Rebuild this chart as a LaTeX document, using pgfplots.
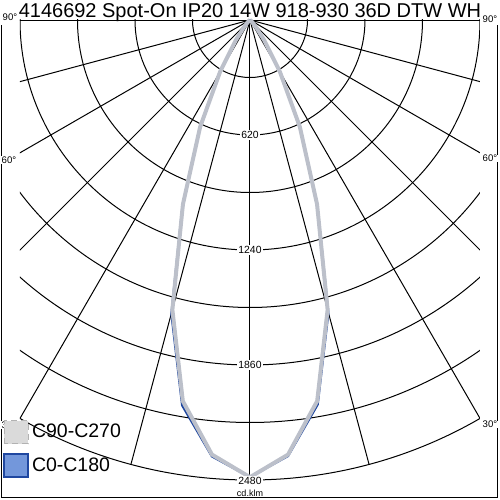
\documentclass[border=0pt]{standalone}
\usepackage{fontspec}
\setmainfont{Liberation Sans}
\usepackage{pgfplots}
\usepackage{pgfplotstable}
\pgfplotsset{compat=1.18}
\definecolor{greyc}{HTML}{BCC0CA}
\definecolor{bluec}{HTML}{1F47A0}
\definecolor{bluefill}{HTML}{7397DB}
\definecolor{greyfill}{HTML}{DADADA}

% gamma (deg, negative = left half), intensity (cd/klm)
\pgfplotstableread{
g I
-90 0
-80 0
-70 0
-60 2
-55 4
-50 8
-45 18
-40 50
-35 135
-30 323
-25 636
-20 1057
-15 1617
-10 2086
-5 2352
0 2465
5 2352
10 2086
15 1617
20 1057
25 636
30 323
35 135
40 50
45 18
50 8
55 4
60 2
70 0
80 0
90 0
}\greydata

\pgfplotstableread{
g I
-90 0
-80 0
-70 0
-60 2
-55 4
-50 8
-45 17
-40 48
-35 133
-30 320
-25 640
-20 1065
-15 1640
-10 2110
-5 2362
0 2465
5 2360
10 2105
15 1635
20 1062
25 638
30 320
35 133
40 48
45 17
50 8
55 4
60 2
70 0
80 0
90 0
}\bluedata

\begin{document}
\begin{tikzpicture}
\begin{axis}[
  name=ax,
  x=0.5pt, y=0.5pt,
  xmin=-250, xmax=250, ymin=-480, ymax=20,
  enlargelimits=false,
  hide axis,
  clip=false,
  legend cell align=left,
  legend style={at={(axis cs:-247,-400)}, anchor=north west, draw=none, fill=none,
    font=\fontsize{9.75}{11}\selectfont, row sep=4.5pt, inner sep=0pt,
    nodes={inner sep=1.5pt}},
]
% grid
\begin{scope}
\clip (axis cs:-230,0.6) rectangle (axis cs:230,-465);
\pgfplotsinvokeforeach{1,2,3,4,5,6,7,8}{
  \draw[black, line width=0.5pt] (axis cs:0,0) circle[radius=28.75pt*#1];
}
\pgfplotsinvokeforeach{-90,-75,-60,-45,-30,-15,0,15,30,45,60,75,90}{
  \draw[black, line width=0.5pt] (axis cs:0,0) -- ++(-90+#1:230pt);
}
\end{scope}
% frame
\draw[black, line width=0.5pt] (axis cs:-249,-5) -- (axis cs:-249,-477) -- (axis cs:248,-477) -- (axis cs:248,-5);

\addlegendimage{legend image code/.code={\draw[fill=greyfill, draw=gray!60, densely dashed, line width=0.5pt] (0pt,-5.75pt) rectangle (12pt,5.75pt);}}
\addlegendentry{C90-C270}
\addlegendimage{legend image code/.code={\draw[fill=bluefill, draw=bluec, line width=0.8pt] (0pt,-5.75pt) rectangle (12pt,5.75pt);}}
\addlegendentry{C0-C180}

\addplot[bluec, line width=1pt, forget plot] table[
  x expr={\thisrow{I}*0.185484*sin(\thisrow{g})},
  y expr={-\thisrow{I}*0.185484*cos(\thisrow{g})}]{\bluedata};
\addplot[greyc, line width=2pt, forget plot] table[
  x expr={\thisrow{I}*0.185484*sin(\thisrow{g})},
  y expr={-\thisrow{I}*0.185484*cos(\thisrow{g})}]{\greydata};

% value labels
\node[fill=white, inner sep=0.6pt, font=\fontsize{5.2}{6}\selectfont] at (axis cs:0,-115) {620};
\node[fill=white, inner sep=0.6pt, font=\fontsize{5.2}{6}\selectfont] at (axis cs:0,-230) {1240};
\node[fill=white, inner sep=0.6pt, font=\fontsize{5.2}{6}\selectfont] at (axis cs:0,-345) {1860};
\node[fill=white, inner sep=0.6pt, font=\fontsize{5.2}{6}\selectfont] at (axis cs:0,-460.5) {2480};
\node[inner sep=0pt, font=\fontsize{4.5}{5}\selectfont] at (axis cs:0,-473) {cd.klm};
% angle labels
\node[fill=white, inner sep=0.3pt, font=\fontsize{4.8}{5}\selectfont] at (axis cs:-240,3) {90°};
\node[fill=white, inner sep=0.3pt, font=\fontsize{4.8}{5}\selectfont] at (axis cs:240,0.5) {90°};
\node[fill=white, inner sep=0.3pt, font=\fontsize{4.8}{5}\selectfont] at (axis cs:-241,-140) {60°};
\node[fill=white, inner sep=0.3pt, font=\fontsize{4.8}{5}\selectfont] at (axis cs:240,-138.5) {60°};
\node[fill=white, inner sep=0.3pt, font=\fontsize{4.8}{5}\selectfont] at (axis cs:-241,-405) {30°};
\node[fill=white, inner sep=0.3pt, font=\fontsize{4.8}{5}\selectfont] at (axis cs:240,-404.5) {30°};
% title
\node[anchor=base, inner sep=0pt, font=\fontsize{10}{12}\selectfont] at (axis cs:0,2.5) {4146692 Spot-On IP20 14W 918-930 36D DTW WH};
\end{axis}
\pgfresetboundingbox
\path[use as bounding box] (ax.south west) rectangle (ax.north east);
\end{tikzpicture}
\end{document}
